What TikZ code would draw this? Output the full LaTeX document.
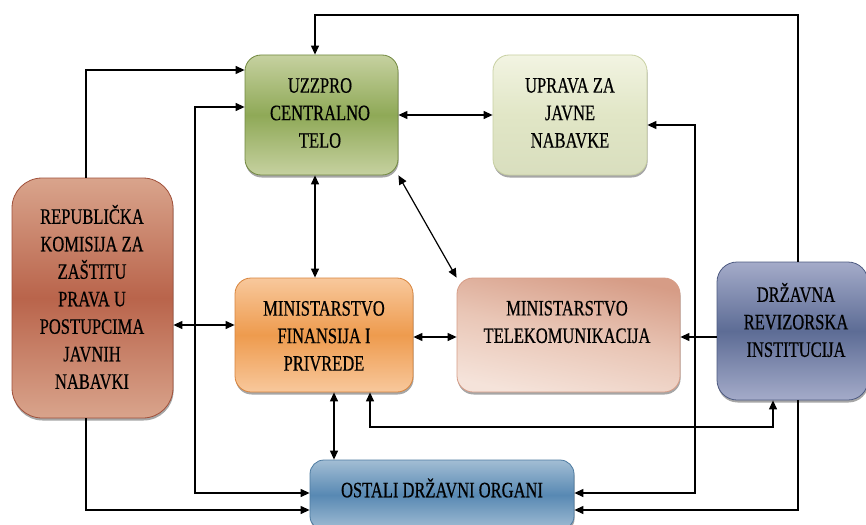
\documentclass[tikz,border=0pt]{standalone}
\usepackage{fontspec}
\setmainfont[FakeStretch=0.75,FakeBold=0.5]{Liberation Serif}
\usetikzlibrary{arrows.meta,shadows}
\definecolor{uzzL}{HTML}{C6D1A0}
\definecolor{uzzM}{HTML}{8FA957}
\definecolor{uzzD}{HTML}{71883F}
\definecolor{uprL}{HTML}{F2F4E2}
\definecolor{uprM}{HTML}{E1E6C6}
\definecolor{uprD}{HTML}{C8D0A2}
\definecolor{repL}{HTML}{D9A48C}
\definecolor{repM}{HTML}{B9644B}
\definecolor{repD}{HTML}{A0503A}
\definecolor{mfL}{HTML}{F8C89C}
\definecolor{mfM}{HTML}{EE9B4E}
\definecolor{mfD}{HTML}{D8843C}
\definecolor{telD}{HTML}{D69C86}
\definecolor{telM}{HTML}{E9C6B6}
\definecolor{telL}{HTML}{F5E3DA}
\definecolor{drzL}{HTML}{A4ABC9}
\definecolor{drzM}{HTML}{5D6C95}
\definecolor{drzD}{HTML}{4E5B82}
\definecolor{ostL}{HTML}{A2BDD4}
\definecolor{ostM}{HTML}{5889B3}
\definecolor{ostD}{HTML}{4D7BA1}
\begin{document}
\begin{tikzpicture}[x=1pt,y=-1pt,
  box/.style={draw=#1, line width=0.8pt, inner sep=0pt,
    drop shadow={shadow xshift=0.6pt, shadow yshift=-2.5pt, fill=black, opacity=0.35}},
  lbl/.style={align=center, font=\fontsize{22}{27.5}\selectfont, text=black, inner sep=0pt},
  ln/.style={line width=1.2pt, draw=black},
  arr/.style={ln, -{Triangle[length=9pt,width=8pt]}},
  arrb/.style={ln, {Triangle[length=9pt,width=8pt]}-{Triangle[length=9pt,width=8pt]}}]
\useasboundingbox (0,0) rectangle (866,524);
\fill[white] (0,0) rectangle (866,524);
\clip (0,0) rectangle (866,524);
% boxes
\node[box=uzzD, rounded corners=16pt, top color=uzzL, bottom color=uzzL, middle color=uzzM,
  minimum width=153pt, minimum height=120pt] (uzz) at (321.5,115) {};
\node[box=uprD, rounded corners=16pt, top color=uprL, bottom color=uprD!70, middle color=uprM,
  minimum width=154pt, minimum height=120pt] (upr) at (570,115) {};
\node[box=repD, rounded corners=30pt, top color=repL, bottom color=repL, middle color=repM,
  minimum width=161pt, minimum height=240pt] (rep) at (92.5,298) {};
\node[box=mfD, rounded corners=16pt, top color=mfL, bottom color=mfL, middle color=mfM,
  minimum width=178pt, minimum height=114pt] (mf) at (324,335) {};
\node[box=telD, rounded corners=16pt, top color=telD, bottom color=telL, middle color=telM, shading angle=-12,
  minimum width=223pt, minimum height=114pt] (tel) at (568.5,335) {};
\node[box=drzD, rounded corners=20pt, top color=drzL, bottom color=drzL, middle color=drzM,
  minimum width=151pt, minimum height=138pt] (drz) at (792.5,331) {};
\node[box=ostD, rounded corners=14pt, top color=ostL, bottom color=ostL, middle color=ostM,
  minimum width=264pt, minimum height=70pt] (ost) at (442,495) {};
% texts
\node[lbl] (uzzt) at (320,113) {UZZPRO\\CENTRALNO\\TELO};
\node[lbl] (uprt) at (570,113) {UPRAVA ZA\\JAVNE\\NABAVKE};
\node[lbl] (rept) at (92,297) {REPUBLIČKA\\KOMISIJA ZA\\ZAŠTITU\\PRAVA U\\POSTUPCIMA\\JAVNIH\\NABAVKI};
\node[lbl] (mft) at (324,336) {MINISTARSTVO\\FINANSIJA I\\PRIVREDE};
\node[lbl] (telt) at (567,322) {MINISTARSTVO\\TELEKOMUNIKACIJA};
\node[lbl] (drzt) at (796,320) {DRŽAVNA\\REVIZORSKA\\INSTITUCIJA};
\node[lbl] (ostt) at (442,488) {OSTALI DRŽAVNI ORGANI};
% lane coordinates
\coordinate (xR) at (798,15);
\coordinate (xL) at (315,15);
\coordinate (rA) at (86,70);
\coordinate (lB) at (195,107);
\coordinate (lB2) at (195,493);
\coordinate (rC) at (86,510);
\coordinate (uA) at (695,125);
\coordinate (uB) at (695,493);
\coordinate (dA) at (798,510);
\coordinate (mA) at (334,0);
\coordinate (dB) at (773,427);
\coordinate (mB) at (370,427);
\coordinate (uC) at (315,0);
\coordinate (yR) at (0,325);
\coordinate (yM) at (0,337);
% connectors
\draw[arr] (drz.north -| xR) -- (xR) -- (xL) -- (uzz.north -| xL);
\draw[arr] (rep.north -| rA) -- (rA) -- (uzz.west |- rA);
\draw[arrb] (uzz.west |- lB) -- (lB) -- (lB2) -- (ost.west |- lB2);
\draw[arr] (rep.south -| rC) -- (rC) -- (ost.west |- rC);
\draw[arrb] (upr.east |- uA) -- (uA) -- (uB) -- (ost.east |- uB);
\draw[arr] (drz.south -| dA) -- (dA) -- (ost.east |- dA);
\draw[arrb] (mf.south -| mA) -- (ost.north -| mA);
\draw[arrb] (drz.south -| dB) -- (dB) -- (mB) -- (mf.south -| mB);
\draw[arrb] (uzz.south -| uC) -- (mf.north -| uC);
\draw[arrb] (uzz.south east) -- (tel.north west);
\draw[arrb] (uzz.east) -- (upr.west);
\draw[arrb] (rep.east |- yR) -- (mf.west |- yR);
\draw[arrb] (mf.east |- yM) -- (tel.west |- yM);
\draw[arr] (drz.west |- yM) -- (tel.east |- yM);
\end{tikzpicture}
\end{document}
